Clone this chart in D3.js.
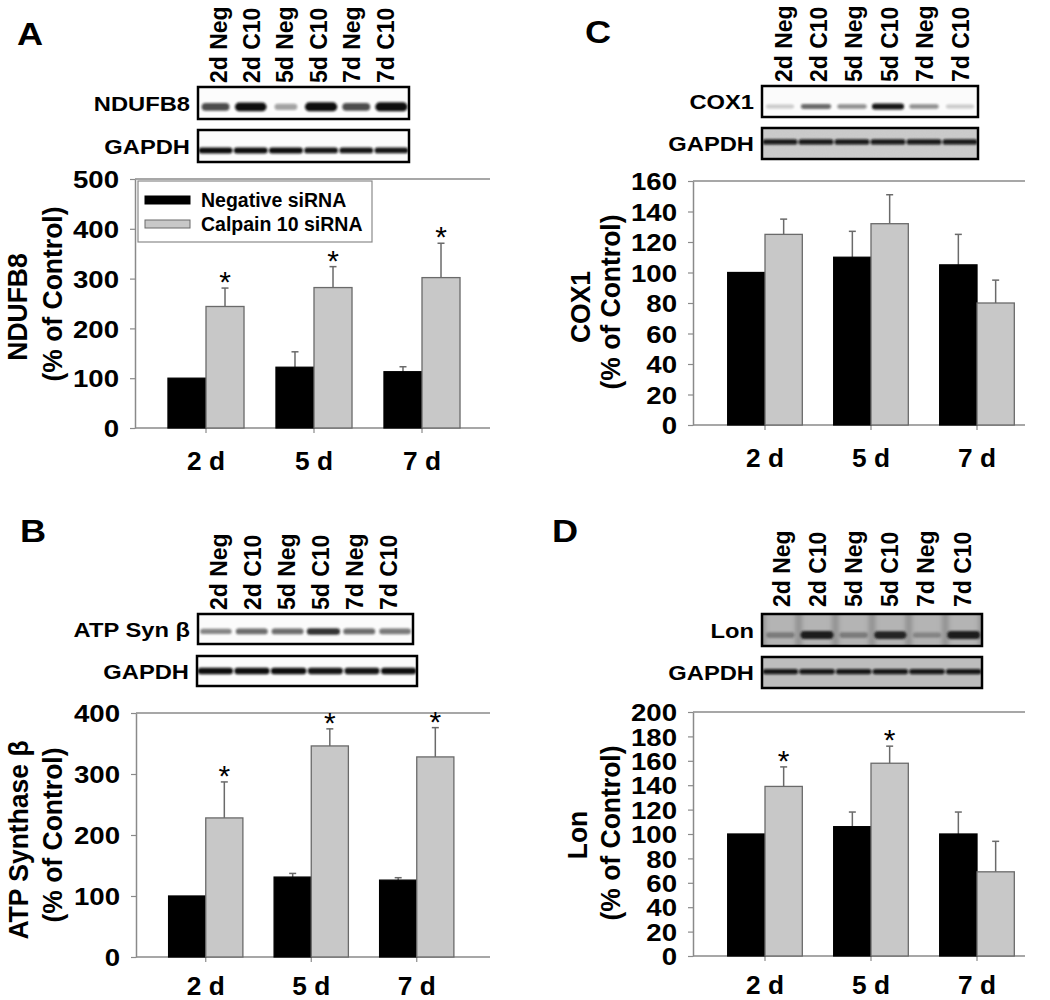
<!DOCTYPE html>
<html><head><meta charset="utf-8">
<script src="https://cdn.jsdelivr.net/npm/d3@7"></script>
<style>
body{margin:0;background:#fff}
svg{display:block}
text{font-family:"Liberation Sans",Arial,Helvetica,sans-serif;fill:#000}
</style>
</head><body>
<svg id="fig" width="1050" height="1000"></svg>
<script>
// ---------------- DATA ----------------
const groups = ["2 d", "5 d", "7 d"];
const lanes = ["2d Neg", "2d C10", "5d Neg", "5d C10", "7d Neg", "7d C10"];
const seriesNames = ["Negative siRNA", "Calpain 10 siRNA"];

// Panel A : NDUFB8
const ndufb8Neg = [100, 122, 113];
const ndufb8NegErr = [0, 31, 10];
const ndufb8C10 = [244, 282, 302];
const ndufb8C10Err = [37, 42, 69];
const ndufb8Sig = [1, 1, 1];
const ndufb8Ticks = [0, 100, 200, 300, 400, 500];

// Panel B : ATP synthase beta
const atpNeg = [100, 131, 126];
const atpNegErr = [0, 6, 4];
const atpC10 = [228, 346, 328];
const atpC10Err = [59, 28, 48];
const atpSig = [1, 1, 1];
const atpTicks = [0, 100, 200, 300, 400];

// Panel C : COX1
const cox1Neg = [100, 110, 105];
const cox1NegErr = [0, 17, 20];
const cox1C10 = [125, 132, 80];
const cox1C10Err = [10, 19, 15];
const cox1Sig = [0, 0, 0];
const cox1Ticks = [0, 20, 40, 60, 80, 100, 120, 140, 160];

// Panel D : Lon
const lonNeg = [100, 106, 100];
const lonNegErr = [0, 12, 18];
const lonC10 = [139, 158, 69];
const lonC10Err = [16, 14, 25];
const lonSig = [1, 1, 0];
const lonTicks = [0, 20, 40, 60, 80, 100, 120, 140, 160, 180, 200];

// Western blot band intensities (0..1) per lane
const ndufb8Bands = [0.7, 0.95, 0.35, 1.0, 0.7, 1.0];
const gapdhBandsA = [0.95, 0.95, 0.95, 0.92, 0.92, 0.92];
const atpBands = [0.5, 0.6, 0.6, 0.85, 0.6, 0.55];
const gapdhBandsB = [0.95, 0.95, 1.0, 0.92, 0.92, 0.95];
const cox1Bands = [0.2, 0.6, 0.45, 0.95, 0.45, 0.2];
const gapdhBandsC = [0.9, 0.9, 0.9, 0.9, 0.9, 0.9];
const lonBands = [0.35, 1.0, 0.35, 0.9, 0.3, 1.0];
const gapdhBandsD = [0.9, 0.9, 0.9, 0.9, 0.9, 0.9];

// ---------------- DRAWING ----------------
const svg = d3.select("#fig");
const defs = svg.append("defs");
defs.append("filter").attr("id", "blur").attr("x", "-20%").attr("y", "-100%").attr("width", "140%").attr("height", "300%")
  .append("feGaussianBlur").attr("stdDeviation", 1.1);
defs.append("filter").attr("id", "blur2").attr("x", "-20%").attr("y", "-20%").attr("width", "140%").attr("height", "140%")
  .append("feGaussianBlur").attr("stdDeviation", 2.5);
const grainF = defs.append("filter").attr("id", "grain").attr("x", "0").attr("y", "0").attr("width", "100%").attr("height", "100%");
grainF.append("feTurbulence").attr("type", "fractalNoise").attr("baseFrequency", 0.9).attr("numOctaves", 1).attr("seed", 3).attr("result", "n");
grainF.append("feColorMatrix").attr("in", "n").attr("type", "matrix")
  .attr("values", "0 0 0 0 0.55  0 0 0 0 0.55  0 0 0 0 0.55  1.2 0 0 0 -0.45");

function htext(g, x, y, str, size, anchor, sx, weight) {
  return g.append("text")
    .attr("transform", `translate(${x},${y}) scale(${sx},1)`)
    .attr("text-anchor", anchor)
    .style("font-size", size + "px")
    .style("font-weight", weight || "bold")
    .text(str);
}
function vtext(g, x, y, str, size, anchor, sx) {
  return g.append("text")
    .attr("transform", `translate(${x},${y}) scale(${sx},1) rotate(-90)`)
    .attr("text-anchor", anchor)
    .style("font-size", size + "px")
    .style("font-weight", "bold")
    .text(str);
}

function drawLaneLabels(g, first, last, bottom) {
  const xp = d3.scalePoint(lanes, [first, last]);
  lanes.forEach(l => vtext(g, xp(l) + 8.5, bottom, l, 23, "start", 1.03));
}

function drawBlot(g, box, label, bands, st) {
  const xb = d3.scaleBand(lanes, [box.x0, box.x1]);
  const bw = xb.bandwidth();
  const h = box.y1 - box.y0;
  const cid = "clip" + Math.round(box.x0) + "_" + Math.round(box.y0);
  defs.append("clipPath").attr("id", cid).append("rect")
    .attr("x", box.x0).attr("y", box.y0).attr("width", box.x1 - box.x0).attr("height", h);
  const bg = g.append("g").attr("clip-path", `url(#${cid})`);
  bg.append("rect").attr("x", box.x0).attr("y", box.y0).attr("width", box.x1 - box.x0).attr("height", h).attr("fill", st.bg);
  if (st.laneBg) {
    bg.selectAll(".lb").data(lanes).join("rect")
      .attr("x", d => xb(d) + bw * 0.08).attr("y", box.y0 - 5)
      .attr("width", bw * 0.84).attr("height", h + 10)
      .attr("fill", st.laneBg).attr("filter", "url(#blur2)");
  }
  if (st.grain) {
    bg.append("rect").attr("x", box.x0).attr("y", box.y0).attr("width", box.x1 - box.x0).attr("height", h)
      .attr("filter", "url(#grain)").attr("opacity", st.grain);
  }
  const cy = box.y0 + h * st.yFrac;
  const bandW = v => bw * (st.wMin + (st.wMax - st.wMin) * v);
  const bandH = v => st.h * (0.55 + 0.45 * v);
  bg.selectAll(".band").data(bands).join("rect")
    .attr("x", (v, i) => xb(lanes[i]) + bw / 2 - bandW(v) / 2)
    .attr("width", v => bandW(v))
    .attr("y", v => cy - bandH(v) / 2)
    .attr("height", v => bandH(v))
    .attr("rx", v => bandH(v) / 2)
    .attr("fill", st.color)
    .attr("opacity", v => Math.min(1, v * 1.05))
    .attr("filter", "url(#blur)");
  g.append("rect").attr("x", box.x0).attr("y", box.y0).attr("width", box.x1 - box.x0).attr("height", h)
    .attr("fill", "none").attr("stroke", "#000").attr("stroke-width", 2.5);
  htext(g, box.x0 - 8, box.y0 + h / 2 + 7.5, label, 21, "end", 1.13);
}

function drawChart(g, c) {
  const y = d3.scaleLinear().domain([0, c.yMax]).range([c.y1, c.y0]);
  const x = d3.scaleBand().domain(groups).range([c.x0 + c.pad, c.x0 + c.pad + 3 * c.step]);
  const bw = c.step * 0.352;
  const axisCol = "#8a8a8a";

  // frame top line
  g.append("line").attr("x1", c.x0).attr("x2", c.x1).attr("y1", c.y0).attr("y2", c.y0)
    .attr("stroke", axisCol).attr("stroke-width", 1.5);

  // y axis
  const ya = g.append("g").attr("transform", `translate(${c.x0},0)`)
    .call(d3.axisLeft(y).tickValues(c.ticks).tickSize(5).tickSizeOuter(0).tickFormat(d3.format("d")));
  ya.select(".domain").attr("stroke", axisCol).attr("stroke-width", 1.5);
  ya.selectAll(".tick line").attr("stroke", axisCol).attr("stroke-width", 1.2);
  ya.selectAll(".tick text")
    .attr("x", -16 / 1.15).attr("dy", null).attr("y", 8.6)
    .attr("transform", "scale(1.15,1)")
    .style("font-size", "24px").style("font-weight", "bold").style("font-family", "'Liberation Sans',Arial,sans-serif").attr("fill", "#000");

  // x axis
  const xa = g.append("g").attr("transform", `translate(0,${c.y1})`)
    .call(d3.axisBottom(x).tickSize(5).tickSizeOuter(0));
  xa.select(".domain").remove();
  xa.selectAll(".tick line").attr("stroke", axisCol).attr("stroke-width", 1.2);
  xa.selectAll(".tick text").attr("dy", null).attr("y", c.xLabY || 42)
    .attr("transform", "scale(1.05,1)")
    .style("font-size", "25px").style("font-weight", "bold").style("font-family", "'Liberation Sans',Arial,sans-serif").attr("fill", "#000");
  g.append("line").attr("x1", c.x0).attr("x2", c.x1).attr("y1", c.y1).attr("y2", c.y1)
    .attr("stroke", axisCol).attr("stroke-width", 1.5);

  const series = [
    { vals: c.neg, errs: c.negErr, fill: "#000", stroke: "#000", off: -bw },
    { vals: c.c10, errs: c.c10Err, fill: "#c8c8c8", stroke: "#6a6a6a", off: 0 }
  ];
  series.forEach(s => {
    const cx = (d, i) => x(groups[i]) + x.bandwidth() / 2 + s.off;
    const eg = g.append("g");
    s.vals.forEach((v, i) => {
      if (!s.errs[i]) return;
      const xm = cx(v, i) + bw / 2;
      eg.append("line").attr("x1", xm).attr("x2", xm).attr("y1", y(v)).attr("y2", y(v + s.errs[i]))
        .attr("stroke", "#6a6a6a").attr("stroke-width", 1.5);
      eg.append("line").attr("x1", xm - 3.5).attr("x2", xm + 3.5).attr("y1", y(v + s.errs[i])).attr("y2", y(v + s.errs[i]))
        .attr("stroke", "#6a6a6a").attr("stroke-width", 1.5);
    });
    g.append("g").selectAll("rect").data(s.vals).join("rect")
      .attr("x", (d, i) => cx(d, i))
      .attr("y", d => y(d))
      .attr("width", bw)
      .attr("height", d => c.y1 - y(d))
      .attr("fill", s.fill).attr("stroke", s.stroke).attr("stroke-width", 1.3);
  });

  // significance stars
  c.sig.forEach((sgn, i) => {
    if (!sgn) return;
    const xm = x(groups[i]) + x.bandwidth() / 2 + bw / 2;
    g.append("text").attr("x", xm).attr("y", y(c.c10[i] + c.c10Err[i]) + 4)
      .attr("text-anchor", "middle").style("font-size", "30px").style("font-weight", "normal").text("*");
  });

  // y titles
  vtext(g, c.t1x + 10, c.t1y, c.title1, 26.5, "middle", 1.05);
  const t2 = vtext(g, c.t2x + 10, c.t2y, c.title2, 26.5, "middle", 1.05);
  if (c.t2len) t2.attr("textLength", c.t2len).attr("lengthAdjust", "spacingAndGlyphs");

  if (c.legend) {
    const L = c.legend;
    g.append("rect").attr("x", L.x).attr("y", L.y).attr("width", L.w).attr("height", L.h)
      .attr("fill", "#fff").attr("stroke", "#8a8a8a").attr("stroke-width", 1.2);
    seriesNames.forEach((nm, i) => {
      const yy = L.y + 19 + i * 24;
      g.append("rect").attr("x", L.x + 7).attr("y", yy - 4).attr("width", 45).attr("height", 8)
        .attr("fill", series[i].fill).attr("stroke", series[i].stroke).attr("stroke-width", 1);
      htext(g, L.x + 63, yy + 7, nm, 19.5, "start", 1.0);
    });
  }
}

// ---------- Panel A ----------
const gA = svg.append("g");
htext(gA, 17, 45, "A", 32, "start", 1.13);
drawLaneLabels(gA, 218, 385, 83);
drawBlot(gA, { x0: 198, x1: 409, y0: 87, y1: 119 }, "NDUFB8", ndufb8Bands,
  { bg: "#fcfcfc", yFrac: 0.62, h: 9, wMin: 0.5, wMax: 0.92, color: "#111" });
drawBlot(gA, { x0: 198, x1: 409, y0: 130, y1: 162 }, "GAPDH", gapdhBandsA,
  { bg: "#fcfcfc", yFrac: 0.64, h: 6, wMin: 0.85, wMax: 0.97, color: "#111" });
drawChart(gA, {
  x0: 135, x1: 490, y0: 179, y1: 428, yMax: 500, ticks: ndufb8Ticks, step: 108, pad: 17,
  neg: ndufb8Neg, negErr: ndufb8NegErr, c10: ndufb8C10, c10Err: ndufb8C10Err, sig: ndufb8Sig,
  title1: "NDUFB8", t1x: 17, t1y: 307, title2: "(% of Control)", t2x: 52, t2y: 294,
  legend: { x: 138, y: 181, w: 234, h: 61 }
});

// ---------- Panel B ----------
const gB = svg.append("g");
htext(gB, 20, 542, "B", 32, "start", 1.13);
drawLaneLabels(gB, 218, 388, 610);
drawBlot(gB, { x0: 198, x1: 413, y0: 614, y1: 644 }, "ATP Syn \u03B2", atpBands,
  { bg: "#fbfbfb", yFrac: 0.58, h: 7, wMin: 0.8, wMax: 0.95, color: "#1a1a1a" });
drawBlot(gB, { x0: 197, x1: 417, y0: 656, y1: 686 }, "GAPDH", gapdhBandsB,
  { bg: "#fbfbfb", yFrac: 0.5, h: 6.5, wMin: 0.85, wMax: 0.97, color: "#111" });
drawChart(gB, {
  x0: 136, x1: 490, y0: 713, y1: 957, yMax: 400, ticks: atpTicks, step: 105.5, pad: 17,
  neg: atpNeg, negErr: atpNegErr, c10: atpC10, c10Err: atpC10Err, sig: atpSig, xLabY: 38,
  title1: "ATP Synthase \u03B2", t1x: 18, t1y: 840, title2: "(% of Control)", t2x: 52, t2y: 835
});

// ---------- Panel C ----------
const gC = svg.append("g");
htext(gC, 585, 43, "C", 32, "start", 1.13);
drawLaneLabels(gC, 783, 960, 82);
drawBlot(gC, { x0: 762, x1: 978, y0: 86, y1: 117 }, "COX1", cox1Bands,
  { bg: "#fbfbfb", yFrac: 0.66, h: 6, wMin: 0.75, wMax: 0.9, color: "#151515" });
drawBlot(gC, { x0: 762, x1: 978, y0: 128, y1: 159 }, "GAPDH", gapdhBandsC,
  { bg: "#cbcbcb", grain: 0.5, yFrac: 0.45, h: 5.5, wMin: 0.9, wMax: 0.98, color: "#0a0a0a" });
drawChart(gC, {
  x0: 693, x1: 1025, y0: 181, y1: 425, yMax: 160, ticks: cox1Ticks, step: 106, pad: 19,
  neg: cox1Neg, negErr: cox1NegErr, c10: cox1C10, c10Err: cox1C10Err, sig: cox1Sig,
  title1: "COX1", t1x: 580, t1y: 307, title2: "(% of Control)", t2x: 610, t2y: 302
});

// ---------- Panel D ----------
const gD = svg.append("g");
htext(gD, 552, 542, "D", 32, "start", 1.13);
drawLaneLabels(gD, 781, 962, 607);
drawBlot(gD, { x0: 762, x1: 982, y0: 614, y1: 646 }, "Lon", lonBands,
  { bg: "#8e8e8e", laneBg: "#b4b4b4", yFrac: 0.66, h: 8, wMin: 0.7, wMax: 0.9, color: "#1a1a1a" });
drawBlot(gD, { x0: 762, x1: 982, y0: 657, y1: 688 }, "GAPDH", gapdhBandsD,
  { bg: "#bdbdbd", yFrac: 0.47, h: 5.5, wMin: 0.9, wMax: 0.98, color: "#0a0a0a" });
drawChart(gD, {
  x0: 693, x1: 1025, y0: 712, y1: 956, yMax: 200, ticks: lonTicks, step: 106, pad: 19,
  neg: lonNeg, negErr: lonNegErr, c10: lonC10, c10Err: lonC10Err, sig: lonSig, xLabY: 38,
  title1: "Lon", t1x: 577, t1y: 835, title2: "(% of Control)", t2x: 610, t2y: 833
});
</script>
</body></html>
